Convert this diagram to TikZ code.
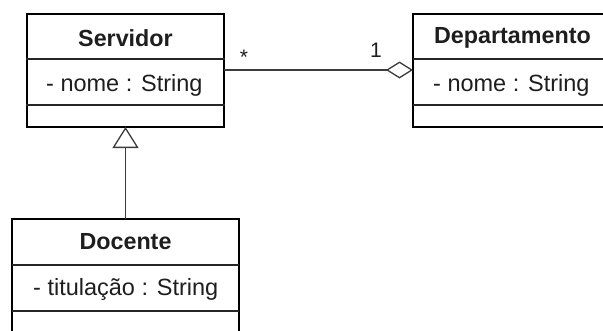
\documentclass[tikz,border=0pt]{standalone}
\usepackage{fontspec}
\setmainfont{Liberation Sans}
\usetikzlibrary{arrows.meta}
\definecolor{ink}{HTML}{1E1E1E}
\definecolor{conn}{HTML}{3C3C3C}
\tikzset{
  classbox/.style={draw=black, line width=2.8pt, rectangle, inner sep=0pt, outer sep=0pt, fill=white},
  divider/.style={draw=black!85, line width=1.3pt},
  cname/.style={font=\fontsize{23.3}{27}\selectfont\bfseries, text=ink, inner sep=0pt},
  attr/.style={font=\fontsize{23.5}{27}\selectfont, text=ink, inner sep=0pt, anchor=west},
  mult/.style={font=\fontsize{21}{24}\selectfont, text=ink, inner sep=0pt},
  assoc/.style={draw=conn, line width=1.3pt},
}
\begin{document}
\begin{tikzpicture}[x=1pt,y=-1pt]
\useasboundingbox (0,0) rectangle (603,330);
\clip (0,0) rectangle (603,330);
% Servidor
\node[classbox, minimum width=197pt, minimum height=113pt] (serv) at (125.5,70.5) {};
\draw[divider] (26,59) -- (225,59);
\draw[divider] (26,105) -- (225,105);
\node[cname] (servname) at (125.5,38) {Servidor};
\node[attr] (servattr) at (46,85) {- nome : String};
% Departamento
\node[classbox, minimum width=199pt, minimum height=113pt] (dept) at (512.5,70.5) {};
\draw[divider] (413,59) -- (612,59);
\draw[divider] (413,105) -- (612,105);
\node[cname] (deptname) at (512.5,38) {Departamento};
\node[attr] (deptattr) at (433,85) {- nome : String};
% Docente
\node[classbox, minimum width=227pt, minimum height=114pt] (doc) at (125.5,276) {};
\draw[divider] (12,265) -- (239,265);
\draw[divider] (12,311) -- (239,311);
\node[cname] (docname) at (125.5,242) {Docente};
\node[attr] (docattr) at (33,289) {- titulação : String};
% association (aggregation)
\coordinate (aL) at (serv.east |- 0,70);
\coordinate (aR) at (dept.west |- 0,70);
\draw[assoc, -{Diamond[open, length=27pt, width=17pt, line width=1.3pt, fill=white]}] (aL) -- (aR);
\node[mult] (m1) at (244,57) {*};
\node[mult] (m2) at (376,50) {1};
% generalization
\draw[assoc, -{Triangle[open, length=21pt, width=26pt, line width=1.3pt, fill=white]}] (doc.north) -- (serv.south);
\end{tikzpicture}
\end{document}
